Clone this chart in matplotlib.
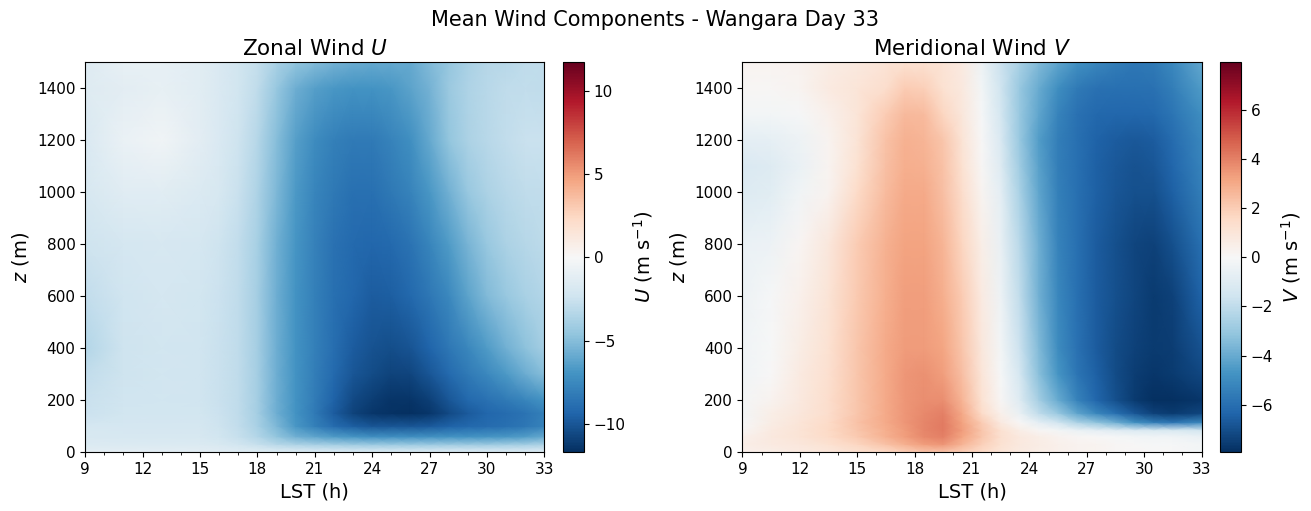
import numpy as np
import matplotlib
matplotlib.use("Agg")
import matplotlib.pyplot as plt
from matplotlib.ticker import MultipleLocator

# Zonal wind: local time (h), height (m), U (m/s)
u_time = [9, 11, 13, 15, 16, 17, 18, 19, 20, 21, 22, 23, 24, 25, 26, 27, 28, 29, 30, 31, 32, 33]
u_height = [0, 12, 30, 60, 100, 150, 200, 300, 400, 600, 800, 1000, 1200, 1400, 1500]
u_wind = [
    [-1.0, -1.0, -1.2, -1.2, -1.3, -1.5, -1.6, -1.7, -1.7, -1.8, -1.8, -1.8, -1.8, -1.8, -1.8, -1.8, -1.8, -1.8, -1.8, -1.8, -1.8, -1.6],
    [-1.4, -1.4, -1.4, -1.4, -1.5, -1.7, -1.9, -2.2, -2.4, -2.5, -2.6, -2.7, -2.7, -2.7, -2.7, -2.7, -2.6, -2.6, -2.6, -2.6, -2.5, -2.4],
    [-1.7, -1.7, -1.7, -1.7, -1.9, -2.2, -2.7, -3.3, -3.7, -4.0, -4.2, -4.3, -4.4, -4.4, -4.4, -4.4, -4.3, -4.3, -4.3, -4.2, -4.1, -3.7],
    [-1.9, -2.0, -2.0, -2.0, -2.2, -2.7, -3.4, -4.6, -5.6, -6.2, -6.6, -6.9, -7.2, -7.2, -7.2, -7.1, -7.0, -7.0, -6.9, -6.8, -6.5, -6.0],
    [-2.1, -2.1, -2.1, -2.1, -2.4, -2.9, -3.8, -5.3, -6.8, -8.0, -9.0, -9.6, -10.0, -10.0, -10.0, -9.8, -9.5, -9.2, -9.0, -8.8, -8.5, -7.8],
    [-2.5, -2.2, -2.2, -2.2, -2.5, -3.0, -4.0, -5.7, -7.0, -8.3, -9.7, -10.8, -11.4, -11.6, -11.7, -11.4, -10.6, -9.8, -9.3, -9.0, -8.6, -8.0],
    [-2.6, -2.3, -2.2, -2.3, -2.6, -3.0, -4.0, -5.7, -7.0, -8.2, -9.5, -10.6, -11.1, -11.5, -11.5, -11.0, -10.0, -9.2, -8.7, -8.3, -7.7, -7.0],
    [-2.9, -2.4, -2.2, -2.3, -2.6, -3.0, -4.0, -5.7, -7.0, -8.1, -9.1, -10.0, -10.5, -10.8, -10.7, -10.0, -9.1, -8.3, -7.5, -6.7, -5.8, -5.0],
    [-3.4, -2.4, -2.2, -2.3, -2.6, -3.0, -4.0, -5.7, -7.0, -8.0, -8.9, -9.7, -10.2, -10.4, -10.1, -9.4, -8.5, -7.6, -6.6, -5.6, -4.8, -4.0],
    [-2.9, -2.3, -2.1, -2.2, -2.5, -3.0, -4.0, -5.7, -7.0, -8.0, -8.8, -9.3, -9.7, -9.6, -9.2, -8.5, -7.5, -6.3, -5.2, -4.4, -3.8, -3.4],
    [-2.4, -2.1, -2.0, -2.1, -2.4, -2.9, -3.9, -5.6, -6.9, -7.9, -8.7, -9.1, -9.3, -9.1, -8.6, -7.7, -6.6, -5.4, -4.4, -3.7, -3.3, -3.1],
    [-2.0, -1.4, -1.3, -1.7, -2.0, -2.6, -3.6, -5.3, -6.7, -7.7, -8.4, -8.8, -8.8, -8.4, -7.8, -6.8, -5.6, -4.4, -3.7, -3.2, -3.0, -2.9],
    [-1.8, -0.8, -0.4, -1.2, -1.8, -2.4, -3.3, -5.0, -6.4, -7.4, -8.0, -8.3, -8.3, -7.8, -7.2, -6.0, -4.6, -3.7, -3.2, -2.9, -2.6, -2.6],
    [-1.5, -1.2, -1.0, -1.3, -1.8, -2.2, -3.0, -4.4, -5.7, -6.4, -6.8, -7.0, -7.0, -6.8, -6.3, -5.5, -4.3, -3.6, -3.2, -3.0, -2.9, -3.0],
    [-1.5, -1.0, -1.0, -1.3, -1.8, -2.2, -2.8, -3.8, -4.6, -5.1, -5.5, -5.8, -6.0, -6.0, -6.0, -5.2, -4.5, -3.8, -3.3, -3.2, -3.0, -3.0],
]

# Meridional wind: local time (h), height (m), V (m/s)
v_time = [9, 10.5, 12, 13.5, 15, 16.5, 17.5, 18.5, 19.5, 20.5, 21.5, 22.5, 23.5, 24.5, 25.5, 26.5, 27.5, 28.5, 29.5, 30.5, 31.5, 33]
v_height = [0, 30, 60, 85, 115, 150, 200, 300, 400, 600, 800, 1000, 1100, 1200, 1300, 1400, 1500]
v_wind = [
    [0.4, 0.5, 0.7, 0.9, 1.2, 1.5, 1.9, 2.2, 2.2, 1.9, 1.5, 1.0, 0.7, 0.5, 0.4, 0.3, 0.2, 0.1, 0.1, 0.0, 0.0, -0.2],
    [0.5, 0.7, 0.9, 1.2, 1.7, 2.3, 2.8, 3.3, 3.5, 2.7, 1.9, 1.2, 0.8, 0.6, 0.4, 0.3, 0.2, 0.1, 0.0, -0.1, -0.1, -0.2],
    [0.4, 0.8, 1.1, 1.5, 2.1, 2.8, 3.3, 3.8, 4.0, 3.1, 2.2, 1.3, 0.8, 0.5, 0.3, 0.1, 0.0, -0.1, -0.2, -0.3, -0.3, -0.5],
    [0.1, 0.7, 1.1, 1.6, 2.2, 2.9, 3.4, 3.9, 4.1, 3.3, 2.2, 1.2, 0.5, 0.1, -0.2, -0.5, -0.8, -1.0, -1.2, -1.3, -1.3, -1.5],
    [-0.1, 0.6, 1.0, 1.5, 2.3, 3.0, 3.5, 3.9, 4.1, 3.2, 2.0, 0.7, 0.0, -0.8, -1.6, -2.5, -3.2, -3.9, -4.8, -5.5, -5.8, -5.2],
    [-0.2, 0.5, 0.9, 1.4, 2.2, 3.0, 3.5, 3.8, 4.0, 3.0, 1.5, 0.4, -0.6, -2.0, -3.0, -4.2, -5.2, -6.0, -6.8, -7.4, -7.6, -7.3],
    [-0.15, 0.3, 0.8, 1.4, 2.2, 3.0, 3.5, 3.7, 3.7, 2.7, 1.2, 0.1, -1.0, -2.7, -4.0, -5.3, -6.3, -7.0, -7.6, -7.9, -7.9, -7.7],
    [-0.3, 0.0, 0.7, 1.3, 2.2, 3.0, 3.5, 3.6, 3.3, 2.4, 1.0, -0.1, -1.4, -3.3, -4.7, -5.8, -6.5, -7.1, -7.5, -7.7, -7.6, -7.2],
    [-0.3, -0.05, 0.6, 1.2, 2.2, 3.0, 3.4, 3.4, 3.1, 2.2, 0.9, -0.2, -1.7, -3.5, -5.0, -5.9, -6.6, -7.1, -7.4, -7.6, -7.5, -6.9],
    [-0.4, -0.1, 0.4, 1.1, 2.1, 2.9, 3.3, 3.3, 2.9, 2.0, 0.7, -0.4, -2.0, -3.8, -5.2, -6.0, -6.6, -7.0, -7.3, -7.6, -7.4, -6.4],
    [-0.5, -0.4, 0.15, 0.9, 2.0, 2.8, 3.2, 3.2, 2.7, 1.7, 0.5, -0.6, -2.2, -3.9, -5.3, -6.0, -6.6, -7.0, -7.3, -7.4, -7.0, -6.0],
    [-1.1, -0.9, -0.3, 0.3, 1.5, 2.5, 3.0, 3.0, 2.4, 1.4, 0.2, -0.8, -2.6, -4.2, -5.4, -6.0, -6.5, -6.8, -7.0, -7.0, -6.5, -5.5],
    [-1.2, -1.0, -0.5, 0.2, 1.2, 2.4, 2.9, 2.8, 2.3, 1.2, 0.1, -1.0, -2.8, -4.3, -5.5, -6.0, -6.5, -6.7, -6.9, -6.8, -6.3, -5.3],
    [-0.8, -0.7, -0.4, 0.2, 1.1, 2.3, 2.8, 2.7, 2.2, 1.1, 0.0, -1.2, -3.0, -4.4, -5.5, -6.0, -6.4, -6.6, -6.7, -6.6, -6.1, -5.2],
    [-0.2, -0.2, -0.1, 0.4, 1.0, 2.0, 2.6, 2.5, 1.7, 0.9, -0.1, -1.4, -3.0, -4.2, -5.3, -5.9, -6.2, -6.3, -6.3, -6.2, -5.8, -4.9],
    [0.1, 0.1, 0.2, 0.7, 1.0, 1.4, 2.0, 1.9, 1.2, 0.8, -0.2, -1.6, -3.0, -4.0, -4.9, -5.6, -5.9, -6.0, -6.0, -5.9, -5.5, -4.5],
    [0.2, 0.2, 0.3, 0.6, 0.8, 1.1, 1.2, 1.2, 1.1, 0.7, -0.4, -1.7, -2.6, -3.5, -4.2, -4.8, -5.2, -5.5, -5.7, -5.6, -5.1, -4.1],
]

u_limit = 11.7
v_limit = 7.93
hour_ticks = [9, 12, 15, 18, 21, 24, 27, 30, 33]
height_ticks = [0, 200, 400, 600, 800, 1000, 1200, 1400]
u_bar_ticks = [-10, -5, 0, 5, 10]
v_bar_ticks = [-6, -4, -2, 0, 2, 4, 6]

W, H = 1311, 511
fig = plt.figure(figsize=(W / 100, H / 100), dpi=100)


def panel(x0, x1, cx0, cx1, time, height, wind, limit, title, bar_label, bar_ticks):
    """Draw one time-height section with its colour bar (pixel extents given)."""
    top, bottom = 62.2, 452.2
    ax = fig.add_axes([x0 / W, 1 - bottom / H, (x1 - x0) / W, (bottom - top) / H])
    cax = fig.add_axes([cx0 / W, 1 - bottom / H, (cx1 - cx0) / W, (bottom - top) / H])
    mesh = ax.pcolormesh(time, height, np.array(wind), cmap="RdBu_r",
                         vmin=-limit, vmax=limit, shading="gouraud", rasterized=True)
    ax.set_xlim(9, 33)
    ax.set_ylim(0, 1500)
    ax.set_xticks(hour_ticks)
    ax.set_yticks(height_ticks)
    ax.xaxis.set_minor_locator(MultipleLocator(1))
    ax.tick_params(labelsize=11)
    ax.set_xlabel("LST (h)", fontsize=14)
    ax.set_ylabel(r"$z$ (m)", fontsize=14, labelpad=4)
    ax.set_title(title, fontsize=15.5, pad=5)
    bar = fig.colorbar(mesh, cax=cax, ticks=bar_ticks)
    bar.ax.tick_params(labelsize=11)
    bar.set_label(bar_label, fontsize=14)


panel(85.2, 544.4, 563, 584, u_time, u_height, u_wind, u_limit,
      r"Zonal Wind $U$", r"$U$ (m s$^{-1}$)", u_bar_ticks)
panel(742.4, 1201.6, 1220, 1241, v_time, v_height, v_wind, v_limit,
      r"Meridional Wind $V$", r"$V$ (m s$^{-1}$)", v_bar_ticks)

fig.text(655 / W, 1 - 19.5 / H, "Mean Wind Components - Wangara Day 33",
         ha="center", va="center", fontsize=15)

fig.savefig("out.png", dpi=100)
